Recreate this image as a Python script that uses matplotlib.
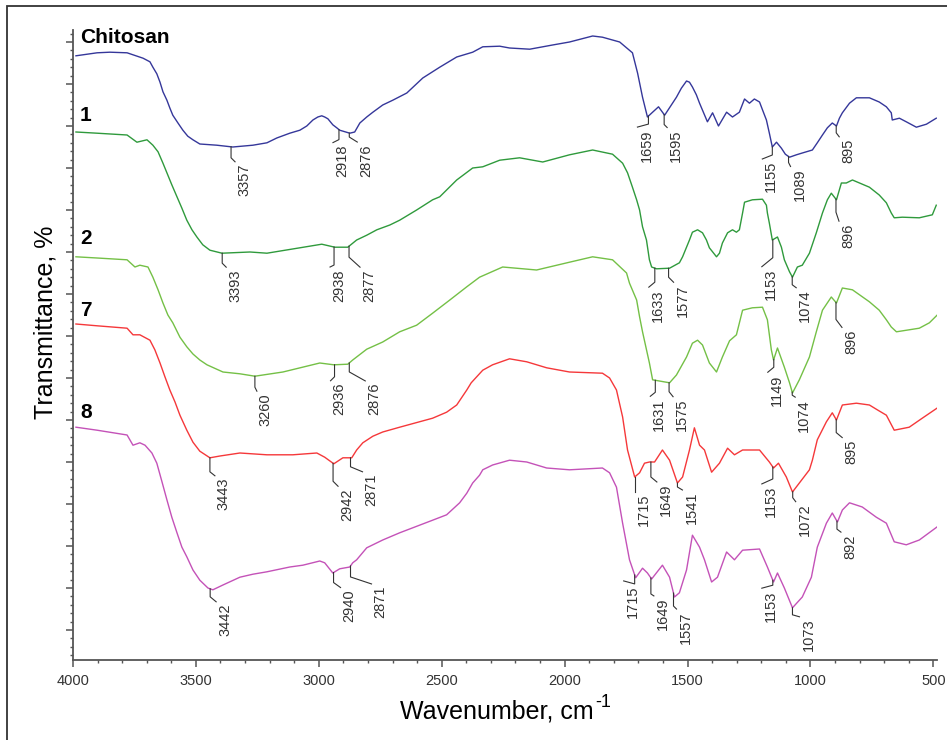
import numpy as np
import matplotlib
matplotlib.use("Agg")
import matplotlib.pyplot as plt
from matplotlib.ticker import MultipleLocator, NullFormatter
from matplotlib.patches import Rectangle
from matplotlib.lines import Line2D
from matplotlib.transforms import IdentityTransform

plt.rcParams['font.family'] = ['Liberation Sans', 'DejaVu Sans']

# spectra (wavenumber, cm-1 / transmittance, arbitrary offset units)
chitosan_wn = [3988, 3902, 3850, 3780, 3715, 3687, 3675, 3659, 3646, 3634, 3618, 3606, 3594, 3573,
               3553, 3533, 3512, 3484, 3415, 3350, 3268, 3211, 3171, 3118, 3077, 3049, 3024, 3004,
               2988, 2976, 2963, 2943, 2927, 2915, 2874, 2854, 2833, 2805, 2780, 2740, 2699, 2642,
               2577, 2508, 2439, 2374, 2333, 2264, 2224, 2142, 2049, 1980, 1886, 1846, 1776, 1724,
               1703, 1683, 1663, 1642, 1618, 1593, 1545, 1525, 1504, 1492, 1480, 1464, 1451, 1419,
               1398, 1374, 1341, 1317, 1289, 1268, 1248, 1228, 1207, 1195, 1179, 1167, 1155, 1138,
               1118, 1102, 1085, 1057, 1033, 992, 972, 951, 931, 911, 894, 882, 870, 841, 813, 760,
               720, 691, 671, 667, 638, 610, 569, 528, 488]
chitosan_t = [100.7, 101.2, 101.3, 101.2, 100.3, 99.7, 98.8, 97.7, 96.3, 94.7, 93.3, 92.0, 90.8, 89.5,
              88.3, 87.3, 86.7, 86.0, 85.8, 85.5, 85.8, 86.2, 87.0, 87.8, 88.3, 89.0, 90.0, 90.5,
              90.7, 90.5, 90.2, 89.2, 88.7, 88.3, 87.8, 88.0, 89.5, 90.5, 91.3, 92.5, 93.3, 94.5,
              97.0, 98.8, 100.5, 101.3, 102.2, 102.3, 102.0, 101.8, 102.5, 103.0, 104.0, 103.8, 103.0, 101.2,
              97.8, 93.8, 90.5, 91.3, 92.2, 90.8, 93.8, 95.3, 96.5, 96.3, 95.5, 94.2, 92.8, 89.7,
              91.2, 89.0, 91.3, 90.5, 91.3, 93.5, 92.8, 93.5, 93.0, 91.7, 90.0, 87.8, 85.5, 86.3,
              85.3, 84.3, 83.8, 84.2, 84.5, 85.0, 86.2, 87.5, 88.7, 89.5, 89.0, 90.3, 91.2, 92.8, 93.7, 93.7,
              93.0, 92.2, 91.2, 90.0, 90.3, 89.7, 88.8, 89.3, 90.3]

s1_wn = [3988, 3902, 3780, 3740, 3699, 3675, 3654, 3634, 3618, 3598, 3577, 3557, 3537, 3516, 3496,
         3472, 3443, 3394, 3280, 3211, 3077, 2988, 2935, 2882, 2846, 2805, 2764, 2711, 2671, 2602,
         2537, 2508, 2439, 2374, 2333, 2264, 2183, 2089, 1980, 1886, 1805, 1764, 1744, 1724,
         1707, 1695, 1683, 1667, 1655, 1646, 1626, 1573, 1533, 1520, 1504, 1492, 1480, 1459, 1439,
         1423, 1411, 1382, 1370, 1358, 1337, 1317, 1301, 1289, 1276, 1268, 1236, 1195, 1179, 1175,
         1167, 1155, 1134, 1118, 1106, 1085, 1073, 1053, 1033, 1004, 976, 951, 931, 915, 894, 874,
         854, 829, 760, 720, 691, 671, 659, 626, 557, 504, 488]
s1_t = [88.0, 87.8, 87.5, 86.3, 86.7, 85.8, 84.7, 82.8, 81.2, 79.2, 77.2, 75.3, 73.3, 71.7, 70.5,
        69.2, 68.3, 67.8, 68.0, 67.8, 68.7, 69.3, 68.8, 68.8, 70.0, 70.8, 71.7, 72.5, 73.3, 75.0,
        76.7, 77.2, 80.0, 82.0, 82.2, 83.3, 83.7, 83.0, 84.2, 85.0, 84.3, 82.8, 81.2, 78.8,
        76.7, 75.0, 72.2, 70.0, 66.7, 65.5, 65.2, 65.3, 66.2, 67.2, 68.8, 70.0, 71.3, 71.7, 71.2,
        70.0, 68.7, 67.2, 67.8, 69.5, 71.2, 71.7, 71.3, 71.7, 74.5, 76.3, 76.7, 76.8, 75.8, 74.5,
        72.8, 70.0, 70.5, 68.8, 66.7, 64.7, 63.8, 65.5, 65.8, 67.8, 71.2, 74.5, 76.7, 77.8, 76.7, 79.5,
        79.5, 80.0, 78.8, 77.5, 76.2, 74.5, 73.7, 73.8, 73.7, 74.2, 75.8]

s2_wn = [3988, 3902, 3780, 3748, 3728, 3695, 3675, 3654, 3634, 3614, 3594, 3565, 3537, 3512, 3484,
         3455, 3390, 3321, 3260, 3146, 2996, 2939, 2882, 2862, 2805, 2740, 2671, 2602, 2537, 2467,
         2398, 2346, 2252, 2114, 1980, 1886, 1805, 1748, 1736, 1707, 1695, 1683, 1655, 1642, 1573,
         1545, 1504, 1480, 1459, 1439, 1411, 1382, 1358, 1329, 1301, 1276, 1236, 1195, 1175, 1159,
         1150, 1134, 1106, 1085, 1073, 1045, 1004, 976, 951, 915, 894, 870, 829, 760, 720, 691, 671,
         650, 557, 516, 484]
s2_t = [67.2, 67.0, 66.7, 65.5, 65.8, 65.5, 63.8, 61.7, 59.5, 57.5, 56.2, 53.8, 52.2, 51.0, 50.0,
        49.2, 48.0, 47.7, 47.3, 48.0, 49.5, 49.2, 49.3, 50.0, 51.8, 53.0, 54.7, 55.8, 57.8, 60.0,
        62.2, 63.8, 65.5, 65.0, 66.3, 67.2, 66.7, 64.5, 62.8, 60.0, 57.2, 54.7, 49.5, 46.7, 46.2,
        47.5, 50.5, 52.8, 53.3, 52.5, 49.5, 48.0, 50.5, 53.2, 54.2, 58.3, 58.7, 58.8, 56.7, 51.7,
        50.0, 52.0, 48.8, 46.2, 44.5, 46.7, 50.5, 54.7, 58.3, 60.5, 59.5, 62.0, 61.7, 59.7, 58.3, 56.7, 55.5,
        54.7, 55.3, 56.2, 57.5]

s7_wn = [3988, 3902, 3780, 3756, 3728, 3687, 3667, 3646, 3626, 3606, 3585, 3565, 3537, 3512, 3484,
         3443, 3402, 3321, 3211, 3106, 3008, 2976, 2939, 2902, 2866, 2846, 2821, 2780, 2740,
         2671, 2537, 2480, 2439, 2398, 2380, 2333, 2293, 2224, 2154, 2073, 1980, 1846, 1817, 1789,
         1764, 1744, 1715, 1695, 1675, 1655, 1634, 1602, 1573, 1541, 1520, 1492, 1472, 1451, 1431,
         1402, 1370, 1337, 1309, 1276, 1207, 1167, 1150, 1130, 1098, 1073, 1045, 1004, 992, 972, 935,
         911, 894, 870, 813, 760, 728, 691, 659, 598, 545, 484]
s7_t = [56.0, 55.7, 55.3, 54.2, 54.2, 53.3, 51.7, 49.5, 47.2, 45.0, 43.0, 40.8, 38.3, 36.3, 34.8,
        33.7, 34.0, 34.5, 34.2, 34.2, 34.5, 33.8, 32.7, 33.7, 33.7, 35.0, 36.2, 37.3, 38.0,
        38.8, 40.3, 41.3, 42.5, 45.0, 46.2, 48.3, 49.2, 50.2, 49.7, 48.7, 48.0, 47.8, 47.0, 45.0,
        40.5, 35.0, 30.5, 31.2, 32.8, 33.0, 33.0, 35.0, 33.3, 29.5, 30.5, 35.0, 38.7, 35.8, 35.0,
        31.3, 32.8, 35.3, 34.2, 35.0, 35.0, 33.0, 32.0, 32.8, 30.5, 28.0, 29.5, 31.7, 33.3, 36.7, 39.7,
        41.2, 40.0, 42.5, 42.8, 42.5, 41.7, 40.8, 38.3, 38.8, 40.3, 42.0]

s8_wn = [3988, 3902, 3780, 3756, 3728, 3707, 3679, 3659, 3638, 3618, 3598, 3577, 3557, 3537, 3512,
         3484, 3451, 3431, 3390, 3321, 3268, 3211, 3118, 3065, 2996, 2976, 2943, 2915,
         2874, 2862, 2846, 2805, 2740, 2671, 2537, 2480, 2427, 2398, 2374, 2346, 2333, 2293, 2224,
         2154, 2073, 1980, 1846, 1817, 1789, 1764, 1736, 1711, 1683, 1663, 1646, 1602, 1573, 1553,
         1533, 1504, 1480, 1451, 1431, 1402, 1378, 1341, 1309, 1276, 1207, 1175, 1150, 1134, 1106,
         1073, 1033, 996, 972, 935, 911, 890, 870, 841, 789, 732, 691, 659, 610, 557, 484]
s8_t = [38.8, 38.3, 37.5, 35.8, 36.2, 35.8, 34.5, 32.8, 29.7, 26.7, 23.8, 21.2, 18.8, 17.2, 15.0,
        13.3, 12.0, 11.7, 12.5, 13.8, 14.3, 14.7, 15.5, 15.8, 16.5, 16.2, 14.5, 15.2,
        15.5, 16.2, 16.7, 18.7, 20.0, 21.2, 23.3, 24.2, 26.2, 27.8, 29.5, 30.8, 31.7, 32.5, 33.3,
        33.0, 32.0, 31.7, 32.0, 31.2, 28.8, 22.8, 16.7, 13.7, 15.3, 14.5, 13.5, 15.8, 13.8, 10.5,
        11.2, 15.0, 20.8, 18.8, 16.7, 13.0, 13.8, 18.0, 16.7, 18.3, 18.5, 15.5, 13.0, 14.5, 12.0,
        8.7, 10.5, 13.8, 18.8, 22.8, 24.5, 23.0, 25.0, 26.2, 25.5, 23.8, 22.8, 19.7, 19.2, 20.0, 22.2]

# marked band positions, cm-1
chitosan_peaks = [3357, 2918, 2876, 1659, 1595, 1155, 1089, 895]
s1_peaks = [3393, 2938, 2877, 1633, 1577, 1153, 1074, 896]
s2_peaks = [3260, 2936, 2876, 1631, 1575, 1149, 1074, 896]
s7_peaks = [3443, 2942, 2871, 1715, 1649, 1541, 1153, 1072, 895]
s8_peaks = [3442, 2940, 2871, 1715, 1649, 1557, 1153, 1073, 892]

# leader shapes in pixels: (vertical drop, bend dx, bend dy)
leaders = {
    'Chitosan': [(11, 4, 4), (10, -6, 3), (4, 8, 5), (8, -11, 3), (10, 3, 3), (8, -10, 4), (6, 2, 4), (7, 3, 4)],
    '1': [(10, 4, 4), (18, -4, 2), (11, 11, 10), (14, -6, 5), (9, 5, 5), (18, -11, 9), (8, 4, 3), (13, 3, 9)],
    '2': [(11, 2, 4), (12, -4, 4), (9, 16, 9), (12, -5, 4), (9, 4, 5), (8, -6, 5), (3, 3, 2), (17, 6, 8)],
    '7': [(14, 5, 4), (18, 5, 5), (9, 12, 5), (15, 0, 0), (15, 6, 5), (4, 5, 3), (12, -11, 5), (6, 3, 4), (13, 6, 5)],
    '8': [(8, 6, 5), (10, 7, 5), (11, 21, 7), (9, -11, -3), (16, 3, 2), (13, 3, 3), (5, -11, 3), (7, 7, 2), (8, 4, 3)],
}

series = [
    ('Chitosan', chitosan_wn, chitosan_t, chitosan_peaks, '#35379A', 103.7),
    ('1', s1_wn, s1_t, s1_peaks, '#2F9A3C', 90.7),
    ('2', s2_wn, s2_t, s2_peaks, '#74C046', 70.3),
    ('7', s7_wn, s7_t, s7_peaks, '#F5383A', 58.2),
    ('8', s8_wn, s8_t, s8_peaks, '#C452B8', 41.3),
]

fig = plt.figure(figsize=(9.47, 7.40), dpi=100)
ax = fig.add_axes([73 / 947, 80 / 740, 864 / 947, 630 / 740])
ax.set_xlim(4000, 485)
ax.set_ylim(0, 105)

for name, wn, t, peaks, color, label_y in series:
    ax.plot(wn, t, color=color, lw=1.0)
    ax.text(3972, label_y, name, fontsize=15, fontweight='bold', ha='left', va='center', color='black')

# band labels with bent leaders
for name, wn, t, peaks, color, label_y in series:
    wn_a = np.array(wn)[::-1]
    t_a = np.array(t)[::-1]
    for p, (vlen, dx, dy) in zip(peaks, leaders[name]):
        x0, y0 = ax.transData.transform((p, np.interp(p, wn_a, t_a)))
        xs = [x0, x0, x0 + dx]
        ys = [y0, y0 - vlen, y0 - vlen - dy]
        fig.add_artist(Line2D(xs, ys, transform=IdentityTransform(), color='#333333', lw=0.8))
        top = min(ys) - 2
        fig.text(x0 + dx + 9, top, str(p), transform=IdentityTransform(), rotation=90,
                 ha='center', va='top', fontsize=10.5, color='#333333')

for side in ['top', 'right']:
    ax.spines[side].set_visible(False)
for side in ['left', 'bottom']:
    ax.spines[side].set_color('#555555')
    ax.spines[side].set_linewidth(1.3)

ax.xaxis.set_major_locator(MultipleLocator(500))
ax.xaxis.set_minor_locator(MultipleLocator(100))
ax.yaxis.set_major_locator(MultipleLocator(7, offset=5))
ax.yaxis.set_minor_locator(MultipleLocator(1.4, offset=0.8))
ax.yaxis.set_major_formatter(NullFormatter())
ax.tick_params(which='major', direction='out', length=5, width=1.1, color='#555555')
ax.tick_params(which='minor', direction='out', length=2.5, width=1.0, color='#555555')
ax.tick_params(axis='x', labelsize=10.5, labelcolor='#333333', pad=5)

fig.text(45 / 947, 1 - 322 / 740, 'Transmittance, %', rotation=90, ha='center', va='center', fontsize=18)
xlab = fig.text(497 / 947, 1 - 712 / 740, 'Wavenumber, cm', ha='center', va='center', fontsize=18)
ax.annotate('-1', xy=(1, 1), xycoords=xlab, xytext=(1, -11), textcoords='offset pixels',
            fontsize=13, ha='left', va='bottom', annotation_clip=False)

fig.add_artist(Rectangle((7 / 947, -0.05), 1.2, 1.05 - 6 / 740, transform=fig.transFigure,
                         fill=False, lw=1.3, ec='#333333'))

fig.savefig('out.png', dpi=100)
